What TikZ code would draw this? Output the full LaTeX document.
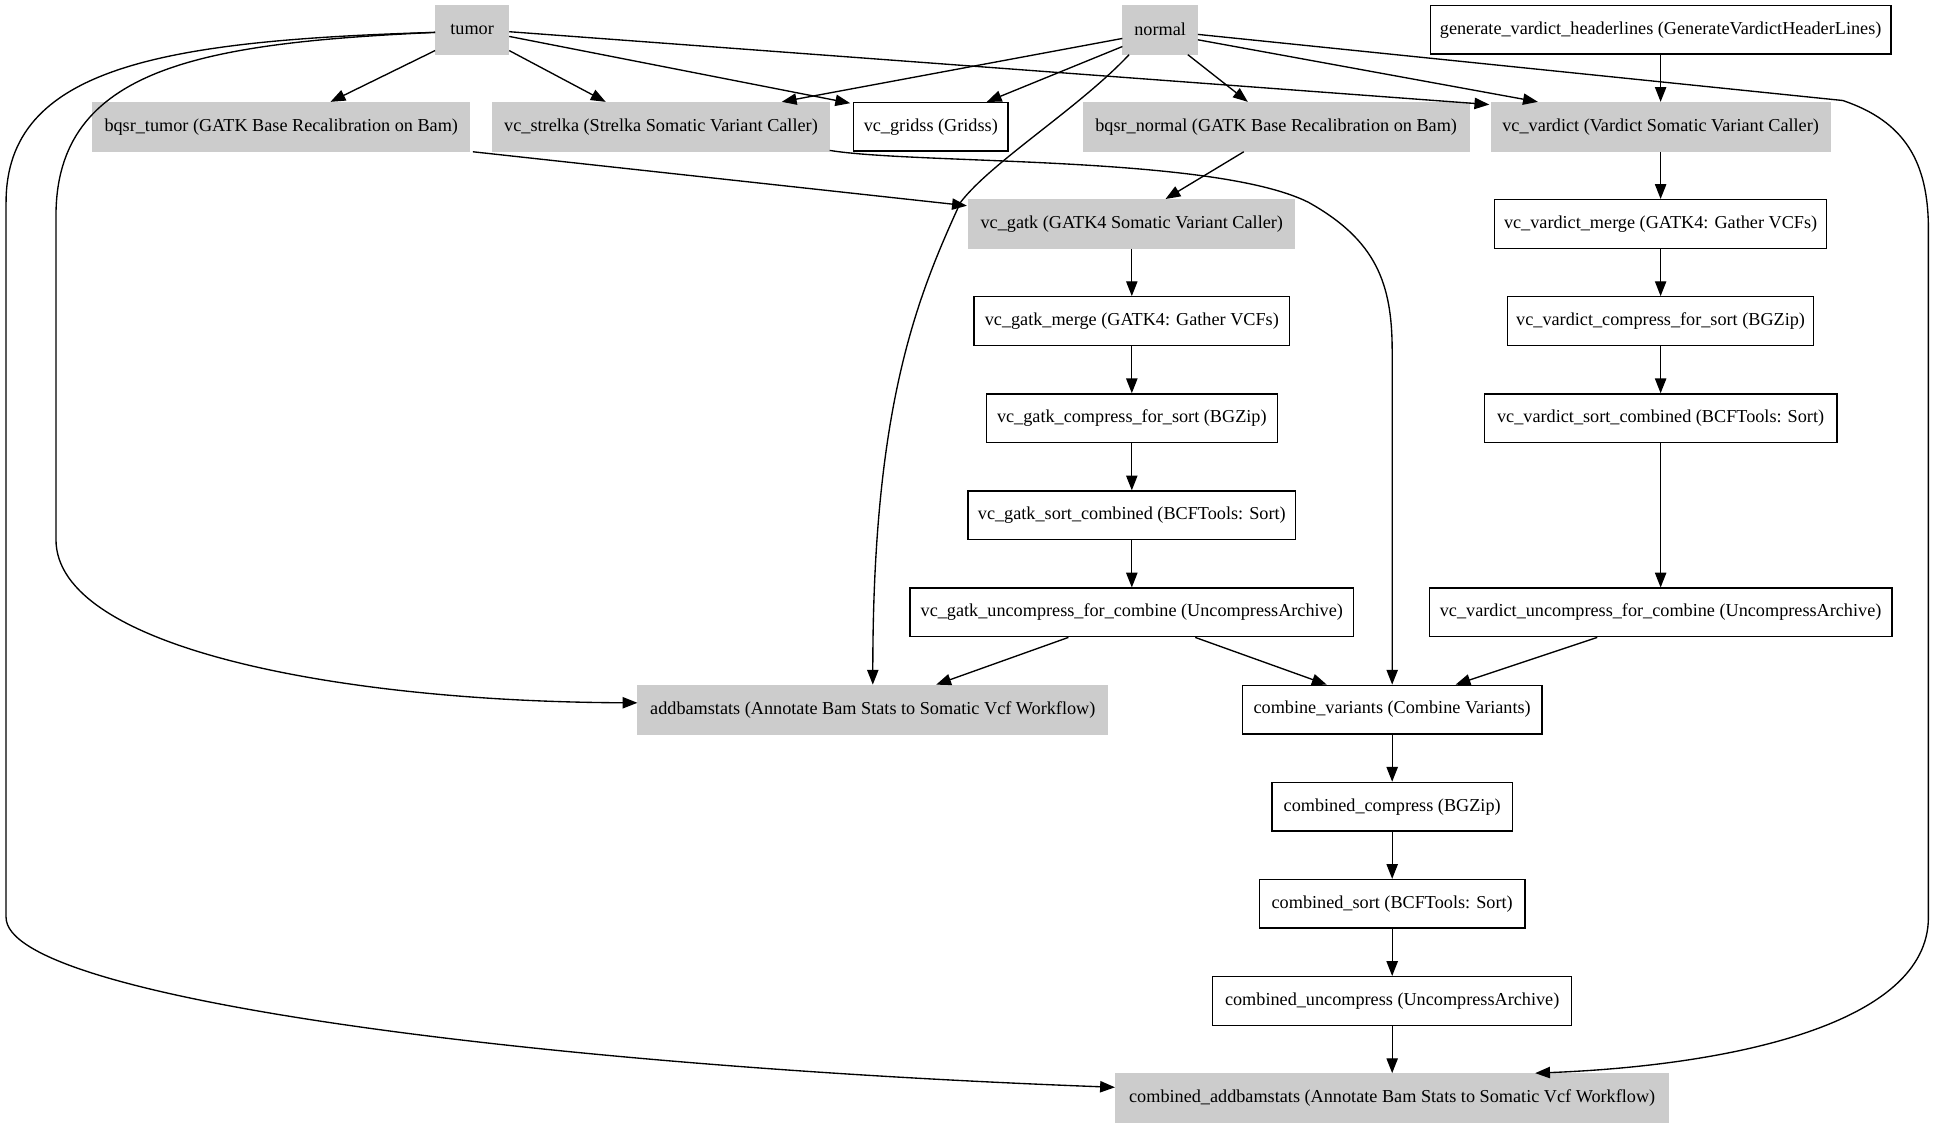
\documentclass[tikz,border=0pt]{standalone}
\usepackage{fontspec}
\setmainfont{Liberation Serif}
\usetikzlibrary{arrows.meta,calc}
\definecolor{gfill}{HTML}{CCCCCC}
\begin{document}
\begin{tikzpicture}[x=1pt,y=-1pt,
  base/.style={rectangle, minimum height=36pt, inner sep=0pt, line width=1pt,
               font=\fontsize{13.5}{16}\selectfont},
  gnode/.style={base, fill=gfill, draw=gfill},
  wnode/.style={base, draw=black, fill=white},
  arr/.style={-{Triangle[length=11pt,width=8.4pt]}, line width=1pt, draw=black},
]
\fill[white] (0,0) rectangle (1434.4,838.4);
\useasboundingbox (0,0) rectangle (1434.4,838.4);

% rank 0
\node[gnode,minimum width=54pt] (tumor) at (350,22) {tumor};
\node[gnode,minimum width=55pt] (normal) at (860,22) {normal};
\node[wnode,minimum width=341.5pt] (gen) at (1231,22) {generate\_vardict\_headerlines (GenerateVardictHeaderLines)};
% rank 1
\node[gnode,minimum width=279pt] (bqsrt) at (208.5,94) {bqsr\_tumor (GATK Base Recalibration on Bam)};
\node[gnode,minimum width=249pt] (strelka) at (490,94) {vc\_strelka (Strelka Somatic Variant Caller)};
\node[wnode,minimum width=114.5pt] (gridss) at (690,94) {vc\_gridss (Gridss)};
\node[gnode,minimum width=286pt] (bqsrn) at (946,94) {bqsr\_normal (GATK Base Recalibration on Bam)};
\node[gnode,minimum width=251pt] (vardict) at (1231,94) {vc\_vardict (Vardict Somatic Variant Caller)};
% rank 2
\node[gnode,minimum width=241.5pt] (gatk) at (839,166) {vc\_gatk (GATK4 Somatic Variant Caller)};
\node[wnode,minimum width=246pt] (vmerge) at (1231,166) {vc\_vardict\_merge (GATK4: Gather VCFs)};
% rank 3
\node[wnode,minimum width=234pt] (gmerge) at (839,238) {vc\_gatk\_merge (GATK4: Gather VCFs)};
\node[wnode,minimum width=227pt] (vcomp) at (1231,238) {vc\_vardict\_compress\_for\_sort (BGZip)};
% rank 4
\node[wnode,minimum width=215.5pt] (gcomp) at (839,310) {vc\_gatk\_compress\_for\_sort (BGZip)};
\node[wnode,minimum width=261.5pt] (vsort) at (1231,310) {vc\_vardict\_sort\_combined (BCFTools: Sort)};
% rank 5
\node[wnode,minimum width=243pt] (gsort) at (839,382) {vc\_gatk\_sort\_combined (BCFTools: Sort)};
% rank 6
\node[wnode,minimum width=329pt] (gunc) at (839,454) {vc\_gatk\_uncompress\_for\_combine (UncompressArchive)};
\node[wnode,minimum width=343pt] (vunc) at (1231,454) {vc\_vardict\_uncompress\_for\_combine (UncompressArchive)};
% rank 7
\node[gnode,minimum width=348pt] (addbam) at (647,526) {addbamstats (Annotate Bam Stats to Somatic Vcf Workflow)};
\node[wnode,minimum width=222pt] (combine) at (1032,526) {combine\_variants (Combine Variants)};
% ranks 8-11
\node[wnode,minimum width=178pt] (ccomp) at (1032,598) {combined\_compress (BGZip)};
\node[wnode,minimum width=197pt] (csort) at (1032,670) {combined\_sort (BCFTools: Sort)};
\node[wnode,minimum width=266pt] (cunc) at (1032,742) {combined\_uncompress (UncompressArchive)};
\node[gnode,minimum width=410pt] (caddbam) at (1032,814) {combined\_addbamstats (Annotate Bam Stats to Somatic Vcf Workflow)};

% tumor edges
\draw[arr] ($(tumor.south west)+(0,-3)$) -- ($(bqsrt.north)+(36.5,0)$);
\draw[arr] ($(tumor.south east)+(0,-3)$) -- ($(strelka.north)+(-41,0)$);
\draw[arr] ($(tumor.east)+(0,5)$) -- ($(gridss.north west)+(-2,1)$);
\draw[arr] ($(tumor.east)+(0,1.5)$) -- ($(vardict.north west)+(-1,2)$);
\draw[arr] ($(tumor.west)+(0,2)$) .. controls (150,32) and (41.5,50) .. (41.5,160)
   -- (41.5,400) .. controls (41.5,480) and (250,520) .. ($(addbam.west)+(0,-5)$);
\draw[arr] ($(tumor.west)+(0,2)$) .. controls (120,30) and (4.5,50) .. (4.5,150)
   -- (4.5,680) .. controls (4.5,740) and (400,790) .. ($(caddbam.west)+(0,-8)$);

% normal edges
\draw[arr] ($(normal.west)+(0,6.5)$) -- ($(strelka.north)+(89.5,0)$);
\draw[arr] ($(normal.west)+(0,12.5)$) -- ($(gridss.north)+(41.5,0)$);
\draw[arr] ($(normal.south east)+(-7.5,0)$) -- ($(bqsrn.north)+(-21,0)$);
\draw[arr] ($(normal.east)+(0,7.5)$) -- ($(vardict.north)+(-91,0)$);
\draw[arr] ($(normal.south west)+(5,0)$) .. controls (800,80) and (735,120) .. (712,150)
   .. controls (680,220) and (647,300) .. (addbam.north);
\draw[arr] ($(normal.east)+(0,3.5)$) -- (1366,74.5) .. controls (1412,90) and (1429.5,120) .. (1429.5,170)
   -- (1429.5,680) .. controls (1429.5,760) and (1280,790) .. ($(caddbam.north)+(106,0)$);

% generate
\draw[arr] (gen) -- (vardict);

% bqsr to gatk
\draw[arr] ($(bqsrt.south east)+(2,0)$) -- ($(gatk.north west)+(-1,5)$);
\draw[arr] ($(bqsrn.south)+(-24,0)$) -- ($(gatk.north)+(25,0)$);

% strelka to combine
\draw[arr] ($(strelka.south east)+(0,-1)$) .. controls (680,122) and (900,115) .. (970,150)
   .. controls (1020,178) and (1032,210) .. (1032,260) -- (combine.north);

% gatk chain
\draw[arr] (gatk) -- (gmerge);
\draw[arr] (gmerge) -- (gcomp);
\draw[arr] (gcomp) -- (gsort);
\draw[arr] (gsort) -- (gunc);
\draw[arr] ($(gunc.south)+(-47,0)$) -- ($(addbam.north)+(47,0)$);
\draw[arr] ($(gunc.south)+(47,0)$) -- ($(combine.north)+(-48.5,0)$);

% vardict chain
\draw[arr] (vardict) -- (vmerge);
\draw[arr] (vmerge) -- (vcomp);
\draw[arr] (vcomp) -- (vsort);
\draw[arr] (vsort) -- (vunc);
\draw[arr] ($(vunc.south)+(-47,0)$) -- ($(combine.north)+(47,0)$);

% combined chain
\draw[arr] (combine) -- (ccomp);
\draw[arr] (ccomp) -- (csort);
\draw[arr] (csort) -- (cunc);
\draw[arr] (cunc) -- (caddbam);
\end{tikzpicture}
\end{document}
